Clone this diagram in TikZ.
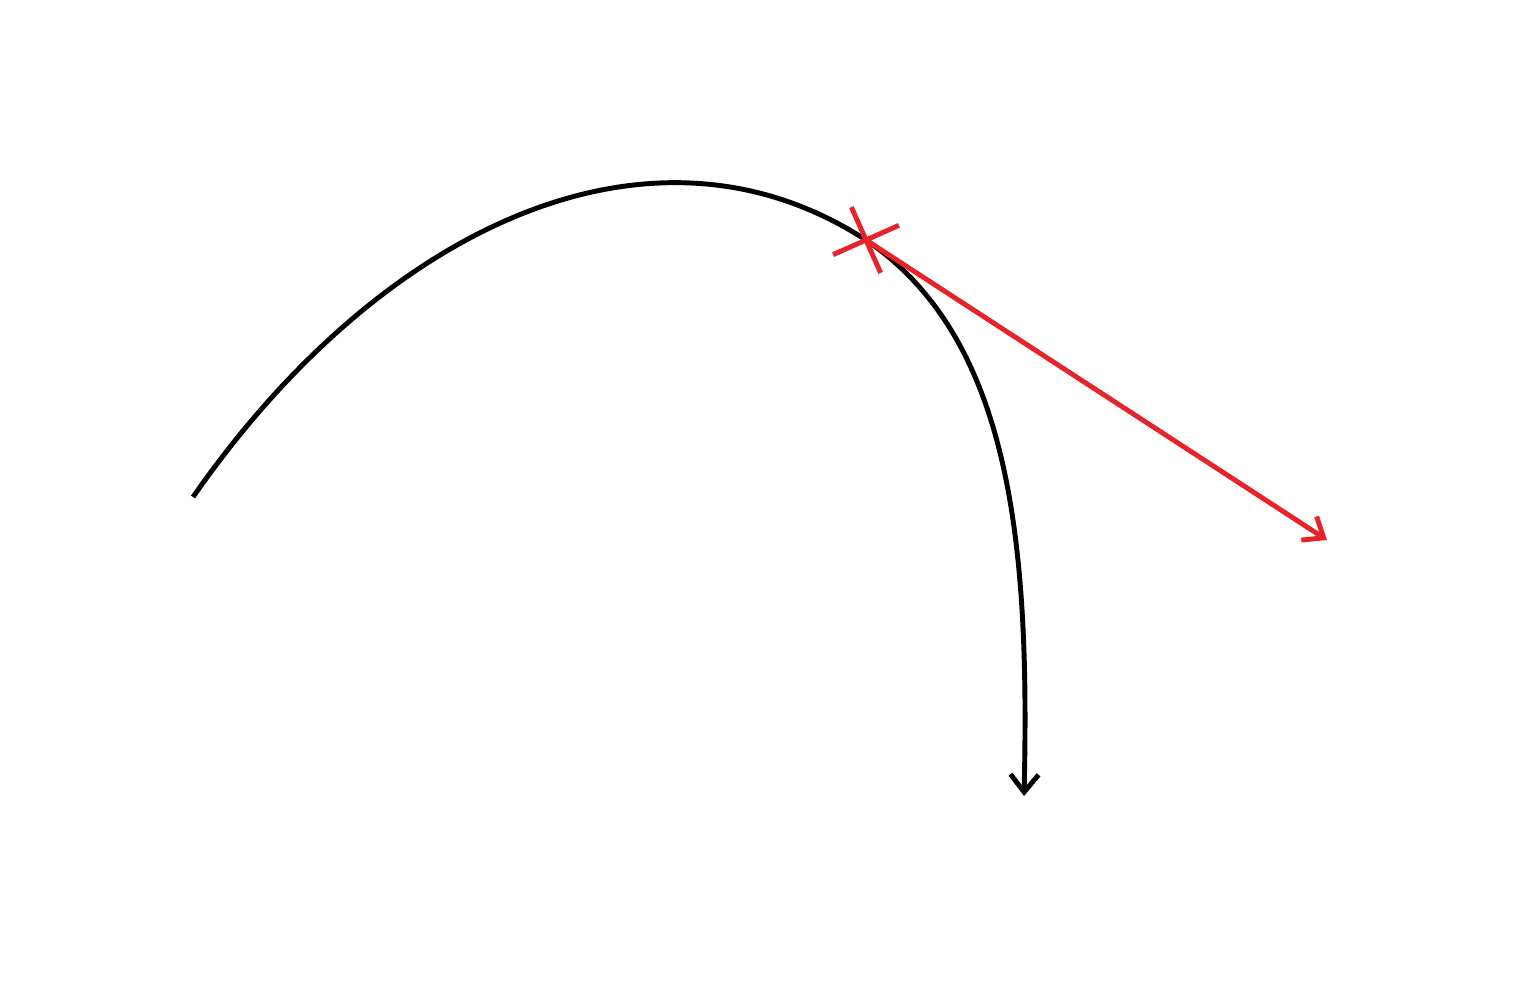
\documentclass[tikz,border=0pt]{standalone}
\usepackage{tikz}
\usetikzlibrary{calc}
\usetikzlibrary{arrows.meta}
\definecolor{vecred}{RGB}{230,35,42}

\begin{document}
\begin{tikzpicture}[line width=1.4pt,tip/.style={-{Straight Barb[length=5pt,width=8pt]}}]
            \useasboundingbox (0,0) rectangle (15.19,9.80);
            \coordinate (s) at (1.93,4.83);
            \coordinate (p) at (8.66,7.40);
            \coordinate (e) at (10.24,1.84);
            \coordinate (v) at (13.27,4.40);

            \draw[tip](s)..controls(3.80,7.52)and(6.50,8.80)..(p)
                ..controls(10.10,6.42)and(10.30,4.40)..(e);
            \draw[vecred,tip](p)--(v);

            \draw[vecred]($(p)+(24:0.36)$)--($(p)+(204:0.36)$);
            \draw[vecred]($(p)+(114:0.36)$)--($(p)+(294:0.36)$);
        \end{tikzpicture}
\end{document}
